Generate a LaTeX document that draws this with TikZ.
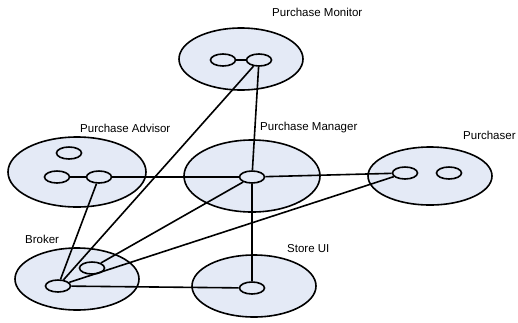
\documentclass[tikz,border=0pt]{standalone}
\usepackage{fontspec}
\setmainfont{Liberation Sans}
\usetikzlibrary{shapes.geometric}
\definecolor{compfill}{RGB}{228,234,246}
\tikzset{
  comp/.style={ellipse, draw=black, line width=1.6pt, fill=compfill, inner sep=0pt},
  port/.style={ellipse, draw=black, line width=1.6pt, fill=compfill, inner sep=0pt, minimum width=25pt, minimum height=12pt},
  lbl/.style={anchor=west, inner sep=0pt, font=\fontsize{11.5}{13}\selectfont},
  conn/.style={draw=black, line width=1.6pt}
}
\begin{document}
\begin{tikzpicture}[x=1pt,y=-1pt]
\useasboundingbox (0,0) rectangle (518,322);
% big ellipses
\node[comp, minimum width=124pt, minimum height=62pt] (mon) at (241,59) {};
\node[comp, minimum width=138pt, minimum height=70pt] (adv) at (77,172) {};
\node[comp, minimum width=136pt, minimum height=72pt] (mgr) at (252,176) {};
\node[comp, minimum width=124pt, minimum height=58pt] (pur) at (430,176) {};
\node[comp, minimum width=124pt, minimum height=62pt] (brk) at (77,279) {};
\node[comp, minimum width=124pt, minimum height=62pt] (sui) at (254,286) {};
% labels
\node[lbl] (lmon) at (272,12) {Purchase Monitor};
\node[lbl] (ladv) at (80,128) {Purchase Advisor};
\node[lbl] (lmgr) at (260,128) {Purchase Manager};
\node[lbl] (lpur) at (463,135) {Purchaser};
\node[lbl] (lbrk) at (25,239) {Broker};
\node[lbl] (lsui) at (287,249) {Store UI};
% port positions
\coordinate (cmonA) at (223,60);
\coordinate (cmonB) at (259,60);
\coordinate (cadvA) at (57,177);
\coordinate (cadvB) at (99,177);
\coordinate (cadvC) at (69,153);
\coordinate (cmgr) at (252,177);
\coordinate (cpurA) at (405,173);
\coordinate (cpurB) at (449,173);
\coordinate (cbrkA) at (92,268);
\coordinate (cbrkB) at (58,286);
\coordinate (csui) at (252,288);
% ports
\node[port] (monA) at (cmonA) {};
\node[port] (monB) at (cmonB) {};
\node[port] (advA) at (cadvA) {};
\node[port] (advB) at (cadvB) {};
\node[port] (advC) at (cadvC) {};
\node[port] (mgrP) at (cmgr) {};
\node[port] (purA) at (cpurA) {};
\node[port] (purB) at (cpurB) {};
\node[port] (brkA) at (cbrkA) {};
\node[port] (brkB) at (cbrkB) {};
\node[port] (suiP) at (csui) {};
% links
\draw[conn] (monA) -- (monB);
\draw[conn] (monB) -- (brkB);
\draw[conn] (monB) -- (mgrP);
\draw[conn] (advA) -- (advB);
\draw[conn] (advB) -- (mgrP);
\draw[conn] (advB) -- (brkB);
\draw[conn] (mgrP) -- (purA);
\draw[conn] (mgrP) -- (brkA);
\draw[conn] (mgrP) -- (suiP);
\draw[conn] (purA) -- (brkB);
\draw[conn] (brkB) -- (suiP);
\end{tikzpicture}
\end{document}
